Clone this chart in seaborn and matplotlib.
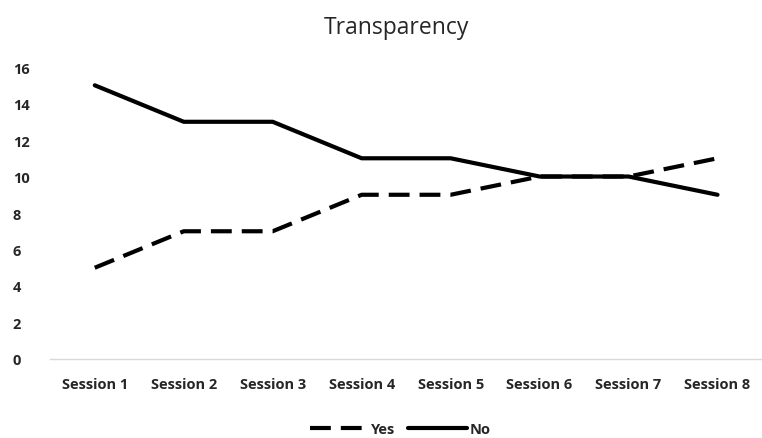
import matplotlib
matplotlib.use("Agg")
import matplotlib.pyplot as plt
import seaborn as sns
import pandas as pd
from matplotlib.lines import Line2D

sessions = ["Session 1", "Session 2", "Session 3", "Session 4", "Session 5", "Session 6", "Session 7", "Session 8"]
yes_vals = [5, 7, 7, 9, 9, 10, 10, 11]
no_vals = [15, 13, 13, 11, 11, 10, 10, 9]
y_ticks = [0, 2, 4, 6, 8, 10, 12, 14, 16]

sns.set_theme(style="white")
plt.rcParams['font.family'] = ['Open Sans', 'DejaVu Sans']

df = pd.DataFrame({
    "Session": sessions * 2,
    "Value": yes_vals + no_vals,
    "Response": ["Yes"] * len(sessions) + ["No"] * len(sessions),
})

DASH = (5.0, 2.4)

fig = plt.figure(figsize=(7.62, 4.39), dpi=100)
ax = fig.add_axes([0.066, 0.180, 0.934, 0.665])

sns.lineplot(data=df, x="Session", y="Value", hue="Response", style="Response",
             palette={"Yes": "black", "No": "black"},
             dashes={"Yes": DASH, "No": ""},
             linewidth=3, ax=ax, legend=False, sort=False)

ax.set_xlim(-0.5, 7.5)
ax.set_ylim(0, 16)
ax.set_yticks(y_ticks)
ax.set_xlabel("")
ax.set_ylabel("")
for s in ["top", "right", "left"]:
    ax.spines[s].set_visible(False)
ax.spines["bottom"].set_color("#d9d9d9")
ax.spines["bottom"].set_linewidth(1)
ax.tick_params(axis="both", length=0, colors="#262626", labelsize=10.5)
for lab in ax.get_xticklabels() + ax.get_yticklabels():
    lab.set_fontweight("bold")
ax.tick_params(axis="x", pad=13)
ax.tick_params(axis="y", pad=27)
for lab in ax.get_yticklabels():
    lab.set_horizontalalignment("left")

fig.text(0.52, 0.937, "Transparency", ha="center", va="center", fontsize=16.5, color="#262626")

handles = [Line2D([], [], color="black", lw=3, dashes=DASH),
           Line2D([], [], color="black", lw=3)]
leg = fig.legend(handles, ["Yes", "No"], loc="center", bbox_to_anchor=(0.525, 0.02),
                 ncol=2, frameon=False, handlelength=4.0, columnspacing=0.9,
                 handletextpad=0.2, prop={"weight": "bold", "size": 10.5})
for t in leg.get_texts():
    t.set_color("#262626")

fig.savefig("out.png", dpi=100)
